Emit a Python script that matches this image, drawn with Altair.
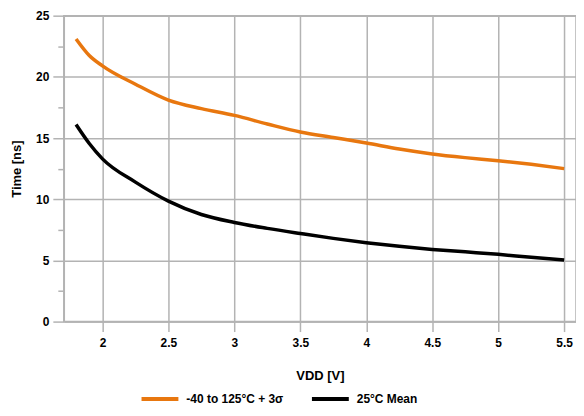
import altair as alt
import pandas as pd

vdd = [1.8, 1.9, 2.0, 2.25, 2.5, 2.75, 3.0, 3.25, 3.5, 3.75, 4.0, 4.25, 4.5, 4.75, 5.0, 5.25, 5.5]
worst = [23.1, 21.75, 20.9, 19.4, 18.1, 17.4, 16.85, 16.15, 15.5, 15.05, 14.6, 14.1, 13.7, 13.4, 13.15, 12.85, 12.5]
mean = [16.1, 14.55, 13.3, 11.4, 9.85, 8.75, 8.1, 7.62, 7.2, 6.8, 6.45, 6.15, 5.9, 5.7, 5.5, 5.25, 5.03]
series = ["-40 to 125°C + 3σ", "25°C Mean"]
colors = ["#E8770F", "#000000"]
x_ticks = [2, 2.5, 3, 3.5, 4, 4.5, 5, 5.5]
y_ticks = [0, 2.5, 5, 7.5, 10, 12.5, 15, 17.5, 20, 22.5, 25]

rows = []
for i, v in enumerate(vdd):
    rows.append({"VDD": v, "Time": worst[i], "Series": series[0], "order": i})
    rows.append({"VDD": v, "Time": mean[i], "Series": series[1], "order": i})
df = pd.DataFrame(rows)

FONT = "Liberation Sans"
GRID = "#b3b3b3"

chart = alt.Chart(df).mark_line(strokeWidth=3.5, interpolate="monotone").encode(
    x=alt.X("VDD:Q", title="VDD [V]",
            scale=alt.Scale(domain=[1.707, 5.59], nice=False, zero=False),
            axis=alt.Axis(values=x_ticks, format="~g", tickSize=10, tickColor=GRID, tickWidth=1.5,
                          domainColor=GRID, domainWidth=1.5, gridColor=GRID, gridWidth=1.5,
                          labelPadding=6, titlePadding=21)),
    y=alt.Y("Time:Q", title="Time [ns]",
            scale=alt.Scale(domain=[0, 25], nice=False),
            axis=alt.Axis(values=y_ticks,
                          labelExpr="datum.value % 5 === 0 ? datum.label : ''",
                          tickSize={"condition": {"test": "datum.value % 5 === 0", "value": 11}, "value": 6},
                          gridOpacity={"condition": {"test": "datum.value % 5 === 0", "value": 1}, "value": 0},
                          tickColor=GRID, tickWidth=1.5,
                          domainColor=GRID, domainWidth=1.5, gridColor=GRID, gridWidth=1.5,
                          labelPadding=4, titlePadding=12)),
    color=alt.Color("Series:N", scale=alt.Scale(domain=series, range=colors),
                    legend=alt.Legend(title=None, orient="none", direction="horizontal",
                                      legendX=76, legendY=364,
                                      symbolType="stroke", symbolSize=1369, symbolStrokeWidth=4,
                                      columnPadding=20, labelOffset=6)),
    order="order:Q",
).properties(
    width=514, height=307,
    autosize=alt.AutoSizeParams(type="none"),
    padding={"left": 56, "top": 7, "right": 0, "bottom": 84},
).configure_view(
    stroke=GRID, strokeWidth=1.5,
).configure_axis(
    labelFont=FONT, labelFontSize=12, labelFontWeight="bold", labelColor="#000",
    titleFont=FONT, titleFontSize=13, titleFontWeight="bold", titleColor="#000",
).configure_legend(
    labelFont=FONT, labelFontSize=12, labelFontWeight="bold", labelColor="#000",
)

chart.save("out.html", embed_options={"renderer": "svg", "actions": False})
